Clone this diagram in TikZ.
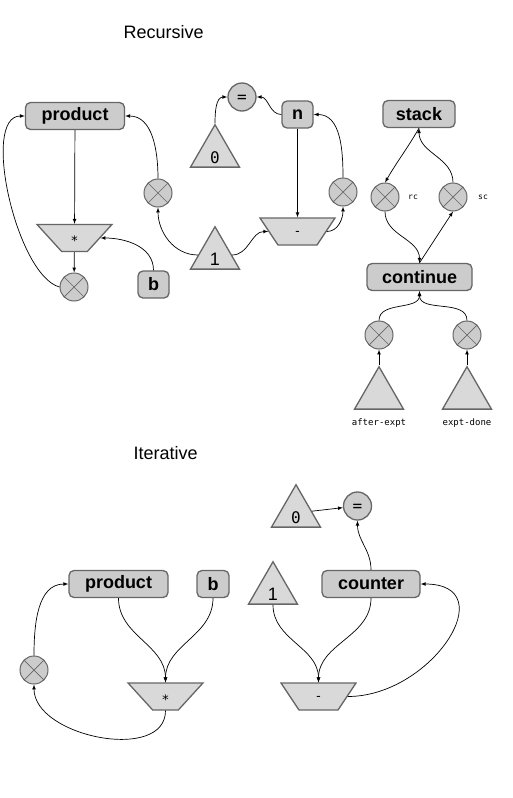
\documentclass[tikz,border=0pt]{standalone}
\usepackage{fontspec}
\setmainfont{Liberation Sans}
\setmonofont{DejaVu Sans Mono}
\usetikzlibrary{shapes.geometric}
\definecolor{edgegray}{HTML}{666666}
\definecolor{boxgray}{HTML}{CCCCCC}
\definecolor{opgray}{HTML}{D9D9D9}
\tikzset{
  reg/.style={draw=edgegray, fill=boxgray, line width=1.3pt, rounded corners=5pt,
    minimum height=27pt, inner xsep=16pt, font=\fontsize{18}{20}\selectfont\bfseries},
  sel/.style={circle, draw=edgegray, fill=boxgray, line width=1pt, minimum size=28pt, inner sep=0pt,
    path picture={\draw[edgegray, line width=0.7pt]
      (path picture bounding box.north west) -- (path picture bounding box.south east)
      (path picture bounding box.south west) -- (path picture bounding box.north east);}},
  eq/.style={circle, draw=edgegray, fill=boxgray, line width=1.3pt, minimum size=28pt, inner sep=0pt,
    text height=11.8pt, text depth=0pt, font=\fontsize{16}{18}\selectfont\ttfamily},
  const/.style={regular polygon, regular polygon sides=3, draw=edgegray, fill=opgray,
    line width=1.3pt, minimum size=52pt, inner sep=0pt, text height=20pt, text depth=0pt},
  op/.style={trapezium, trapezium left angle=116.6, trapezium right angle=116.6,
    trapezium stretches=true, draw=edgegray, fill=opgray, line width=1.3pt,
    minimum width=75pt, minimum height=27pt, inner sep=0pt, text depth=0pt,
    font=\fontsize{13}{15}\selectfont\ttfamily},
  tag/.style={font=\fontsize{9}{11}\selectfont\ttfamily},
  title/.style={anchor=base west, font=\fontsize{18}{20}\selectfont},
  wire/.style={->, >=latex, line width=0.7pt}
}
\begin{document}
\begin{tikzpicture}[x=1pt, y=1pt]
\useasboundingbox (0,0) rectangle (513,-798);

% recursive
\node[title] (trec) at (120,-38) {Recursive};
\node[reg] (prodR) at (75,-116) {product};
\node[op, text height=15pt] (mulR) at (74.5,-238) {*};
\node[sel] (xR1) at (74,-287) {};
\node[reg, inner xsep=0pt, minimum width=31pt] (bR) at (153.5,-284.5) {b};
\node[sel] (xR2) at (158,-193) {};
\node[const, font=\fontsize{18}{20}\selectfont] (oneR) at (215,-255) {1};
\node[const, font=\fontsize{16}{18}\selectfont\ttfamily] (zeroR) at (215,-153) {0};
\node[eq] (eqR) at (242,-97) {=};
\node[reg, inner xsep=0pt, minimum width=31pt] (nR) at (297.5,-114.5) {n};
\node[op, text height=7.2pt] (subR) at (297.5,-231.5) {-};
\node[sel] (xR3) at (343,-192) {};
%
\draw[wire] (prodR) -- (mulR);
\draw[wire] (mulR) -- (xR1);
\draw[wire] (xR1.west) to[out=165, in=180, looseness=0.65] (prodR.west);
\draw[wire] (bR.north) to[out=90, in=0] (mulR.east);
\draw[wire] (xR2.north) to[out=90, in=0] (prodR.east);
\draw[wire] (oneR.west) to[out=180, in=270] (xR2.south);
\draw[wire] (oneR.east) to[out=0, in=180] (subR.west);
\draw[wire] (nR) -- (subR);
\draw[wire] (subR.east) to[out=0, in=270] (xR3.south);
\draw[wire] (xR3.north) to[out=90, in=0] (nR.east);
\draw[wire] (nR.west) to[out=180, in=0] (eqR.east);
\draw[wire] (zeroR.north) to[out=90, in=180] (eqR.west);

% stack and continue
\node[reg, inner xsep=13pt] (stack) at (419,-114) {stack};
\node[sel] (rc) at (385,-197) {};
\node[tag, font=\fontsize{8}{10}\selectfont\ttfamily] (rclbl) at (413,-197) {rc};
\node[sel] (sc) at (453,-197) {};
\node[tag, font=\fontsize{8}{10}\selectfont\ttfamily] (sclbl) at (483,-197) {sc};
\node[reg, inner xsep=15pt] (cont) at (419.5,-277) {continue};
\node[sel] (xa) at (379,-335) {};
\node[sel] (xd) at (467,-335) {};
\node[const] (ta) at (379,-395) {};
\node[const] (td) at (467,-395) {};
\node[tag] (talbl) at (379,-423) {after-expt};
\node[tag] (tdlbl) at (467,-423) {expt-done};
%
\draw[wire] (stack.south) to[out=240, in=60] (rc.north);
\draw[wire] (sc.north) to[out=90, in=270] (stack.south);
\draw[wire] (rc.south) to[out=270, in=90] (cont.north);
\draw[wire] (cont.north) -- (sc.south);
\draw[wire] (xa.north) to[out=90, in=270] (cont.south);
\draw[wire] (xd.north) to[out=90, in=270] (cont.south);
\draw[wire] (ta.north) -- (xa.south);
\draw[wire] (td.north) -- (xd.south);

% iterative
\node[title] (titer) at (130,-459) {Iterative};
\node[reg] (prodI) at (118.5,-584) {product};
\node[reg, inner xsep=0pt, minimum width=32pt] (bI) at (213,-584) {b};
\node[sel] (xI) at (34,-670) {};
\node[op, text height=15pt] (mulI) at (165.5,-696.5) {*};
\node[const, font=\fontsize{16}{18}\selectfont\ttfamily] (zeroI) at (296,-513) {0};
\node[eq] (eqI) at (357.5,-506) {=};
\node[const, font=\fontsize{18}{20}\selectfont] (oneI) at (273,-590) {1};
\node[reg] (counter) at (371,-584) {counter};
\node[op, text height=7.2pt] (subI) at (318.5,-696.5) {-};
%
\draw[wire] (xI.north) to[out=90, in=180] (prodI.west);
\draw[wire] (mulI.south) to[out=270, in=270] (xI.south);
\draw[wire] (prodI.south) to[out=270, in=90] (mulI.north);
\draw[wire] (bI.south) to[out=270, in=90] (mulI.north);
\draw[wire] (oneI.south) to[out=270, in=90] (subI.north);
\draw[wire] (counter.south) to[out=270, in=90] (subI.north);
\draw[wire] (subI.east) to[out=0, in=0, looseness=1.6] (counter.east);
\draw[wire] (counter.north) to[out=90, in=270] (eqI.south);
\draw[wire] (zeroI) -- (eqI);
\end{tikzpicture}
\end{document}
